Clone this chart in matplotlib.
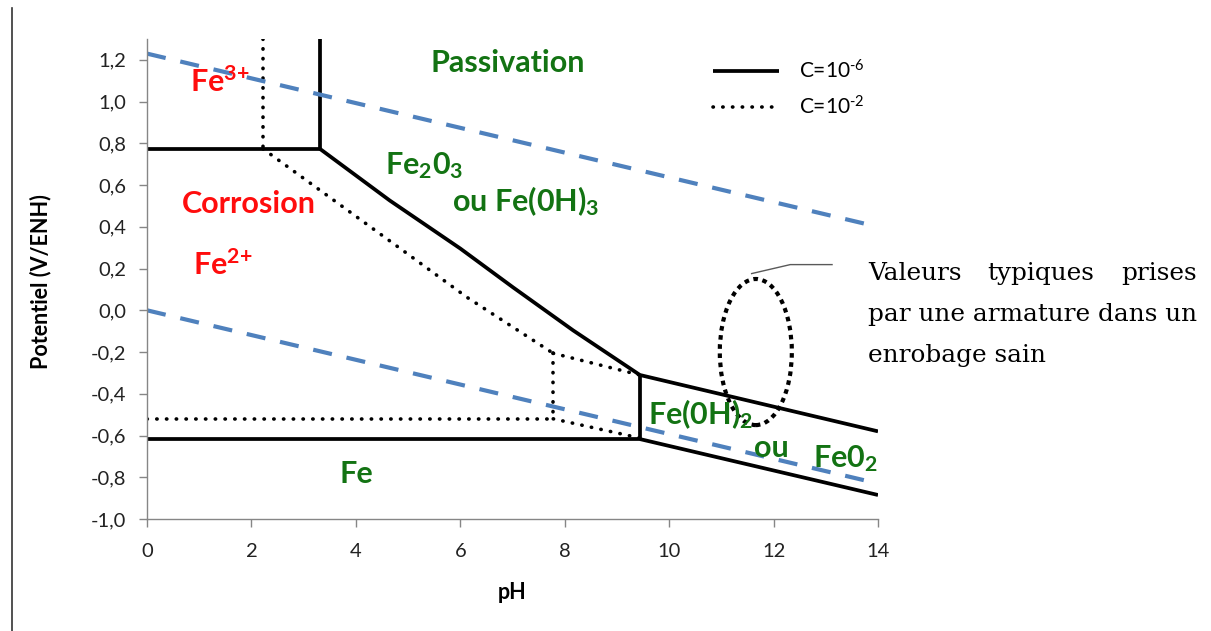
import matplotlib
matplotlib.use("Agg")
import matplotlib.pyplot as plt
from matplotlib.patches import Ellipse
from matplotlib.lines import Line2D

plt.rcParams['font.family'] = ['Lato', 'DejaVu Sans']
plt.rcParams['mathtext.fontset'] = 'custom'
plt.rcParams['mathtext.rm'] = 'Lato'
plt.rcParams['mathtext.bf'] = 'Lato:bold'
plt.rcParams['mathtext.it'] = 'Lato:italic'

# --- data (pH, potential V/ENH) ---
# solid lines, C = 1e-6
fe3_fe2_x = [0, 3.31]
fe3_fe2_y = [0.774, 0.774]
fe3_ox_x = [3.31, 3.31]
fe3_ox_y = [0.774, 1.30]
fe2_ox_x = [3.31, 4.65, 6.0, 7.01, 8.16, 9.44]
fe2_ox_y = [0.774, 0.526, 0.296, 0.110, -0.096, -0.31]
fe2_hyd_x = [9.44, 9.44]
fe2_hyd_y = [-0.31, -0.617]
fe_fe2_x = [0, 9.44]
fe_fe2_y = [-0.617, -0.617]
hyd_ox_x = [9.44, 14]
hyd_ox_y = [-0.31, -0.58]
fe_hyd_x = [9.44, 14]
fe_hyd_y = [-0.617, -0.885]

# dotted lines, C = 1e-2
d_fe3_ox_x = [2.22, 2.22]
d_fe3_ox_y = [1.30, 0.774]
d_fe2_ox_x = [2.22, 2.93, 4.85, 6.13, 7.78]
d_fe2_ox_y = [0.774, 0.645, 0.296, 0.062, -0.206]
d_hyd_ox_x = [7.78, 9.44]
d_hyd_ox_y = [-0.206, -0.31]
d_fe2_hyd_x = [7.78, 7.78]
d_fe2_hyd_y = [-0.206, -0.52]
d_fe_fe2_x = [0, 7.78]
d_fe_fe2_y = [-0.52, -0.52]
d_fe_hyd_x = [7.78, 9.44]
d_fe_hyd_y = [-0.52, -0.612]

# water stability lines
water_x = [0, 14]
o2_y = [1.23, 0.40]
h2_y = [0.0, -0.83]

# typical values for rebar in sound concrete
zone_center = (11.66, -0.20)
zone_width = 1.38
zone_height = 0.70
callout_x = [11.58, 12.32, 13.12]
callout_y = [0.176, 0.219, 0.219]

x_ticks = [0, 2, 4, 6, 8, 10, 12, 14]
y_ticks = [-1.0, -0.8, -0.6, -0.4, -0.2, 0.0, 0.2, 0.4, 0.6, 0.8, 1.0, 1.2]

green = '#137313'
red = '#ff0d0d'
blue = '#4f81bd'

fig = plt.figure(figsize=(12.11, 6.31), dpi=100)
ax = fig.add_axes([147 / 1211, 1 - 519 / 631, 731 / 1211, 480 / 631])

solid = dict(color='black', lw=2.7, solid_capstyle='butt', solid_joinstyle='miter')
dotted = dict(color='black', lw=2.6, linestyle=(0, (0.1, 2.6)), dash_capstyle='round')

ax.plot(fe3_fe2_x, fe3_fe2_y, label='C=10$^{\\text{-6}}$', **solid)
for xs, ys in [(fe3_ox_x, fe3_ox_y), (fe2_ox_x, fe2_ox_y), (fe2_hyd_x, fe2_hyd_y),
               (fe_fe2_x, fe_fe2_y), (hyd_ox_x, hyd_ox_y), (fe_hyd_x, fe_hyd_y)]:
    ax.plot(xs, ys, **solid)

ax.plot(d_fe3_ox_x, d_fe3_ox_y, label='C=10$^{\\text{-2}}$', **dotted)
for xs, ys in [(d_fe2_ox_x, d_fe2_ox_y), (d_hyd_ox_x, d_hyd_ox_y), (d_fe2_hyd_x, d_fe2_hyd_y),
               (d_fe_fe2_x, d_fe_fe2_y), (d_fe_hyd_x, d_fe_hyd_y)]:
    ax.plot(xs, ys, **dotted)

# water lines
ax.plot(water_x, o2_y, color=blue, lw=3, linestyle=(0, (4.6, 3.6)), dash_capstyle='butt')
ax.plot(water_x, h2_y, color=blue, lw=3, linestyle=(0, (4.6, 3.6)), dash_capstyle='butt')

# ellipse + callout
ax.add_patch(Ellipse(zone_center, zone_width, zone_height, fill=False, edgecolor='black',
                     lw=3, linestyle=(0, (1.1, 1.1)), clip_on=False))
ax.plot(callout_x, callout_y, color='#595959', lw=1, clip_on=False)

# region labels
lab = dict(fontsize=22, fontweight='bold', va='baseline')
ax.text(6.90, 1.143, 'Passivation', color=green, ha='center', **lab)
ax.text(0.82, 1.048, 'Fe$^{\\mathbf{3{+}}}$', color=red, ha='left', **lab)
ax.text(1.95, 0.465, 'Corrosion', color=red, ha='center', **lab)
ax.text(0.88, 0.167, 'Fe$^{\\mathbf{2{+}}}$', color=red, ha='left', **lab)
ax.text(4.56, 0.653, 'Fe$_{\\mathbf{2}}$0$_{\\mathbf{3}}$', color=green, ha='left', **lab)
ax.text(5.84, 0.474, 'ou Fe(0H)$_{\\mathbf{3}}$', color=green, ha='left', **lab)
ax.text(9.60, -0.546, 'Fe(0H)$_{\\mathbf{2}}$', color=green, ha='left', **lab)
ax.text(11.63, -0.702, 'ou', color=green, ha='left', **lab)
ax.text(12.75, -0.753, 'Fe0$_{\\mathbf{2}}$', color=green, ha='left', **lab)
ax.text(3.68, -0.828, 'Fe', color=green, ha='left', **lab)

# axes styling
ax.set_xlim(0, 14)
ax.set_ylim(-1.0, 1.3)
ax.set_xticks(x_ticks)
ax.set_xticklabels([str(v) for v in x_ticks])
ax.set_yticks(y_ticks)
ax.set_yticklabels([f"{v:.1f}".replace('.', ',') for v in y_ticks])
for side in ['top', 'right']:
    ax.spines[side].set_visible(False)
for side in ['left', 'bottom']:
    ax.spines[side].set_color('#868686')
    ax.spines[side].set_linewidth(1)
ax.tick_params(axis='both', direction='out', length=6, width=1, color='#868686',
               labelsize=14.5, labelcolor='#222222')
ax.tick_params(axis='x', pad=11)
ax.tick_params(axis='y', pad=9)

ax.set_xlabel('pH', fontsize=15.5, fontweight='bold')
ax.set_ylabel('Potentiel (V/ENH)', fontsize=15.5, fontweight='bold')
ax.xaxis.set_label_coords(0.499, -0.131)
ax.yaxis.set_label_coords(-0.131, 0.494)

leg = ax.legend(loc='upper left', bbox_to_anchor=(0.774, 0.958), frameon=False,
                fontsize=15, handlelength=3.2, handletextpad=0.95, labelspacing=0.6,
                borderpad=0, borderaxespad=0)

# side note
note = dict(fontsize=17.8, family='DejaVu Serif', va='baseline', color='black')
fig.text(868 / 1211, 1 - 280 / 631, 'Valeurs', ha='left', **note)
fig.text(1041 / 1211, 1 - 280 / 631, 'typiques', ha='center', **note)
fig.text(1197 / 1211, 1 - 280 / 631, 'prises', ha='right', **note)
fig.text(868 / 1211, 1 - 321 / 631, 'par une armature dans un', ha='left', **note)
fig.text(868 / 1211, 1 - 362 / 631, 'enrobage sain', ha='left', **note)

# page border line on the left
fig.add_artist(Line2D([12 / 1211, 12 / 1211], [0, 1 - 8 / 631], transform=fig.transFigure,
                      color='#333333', lw=1.2))

fig.savefig('out.png', dpi=100)
